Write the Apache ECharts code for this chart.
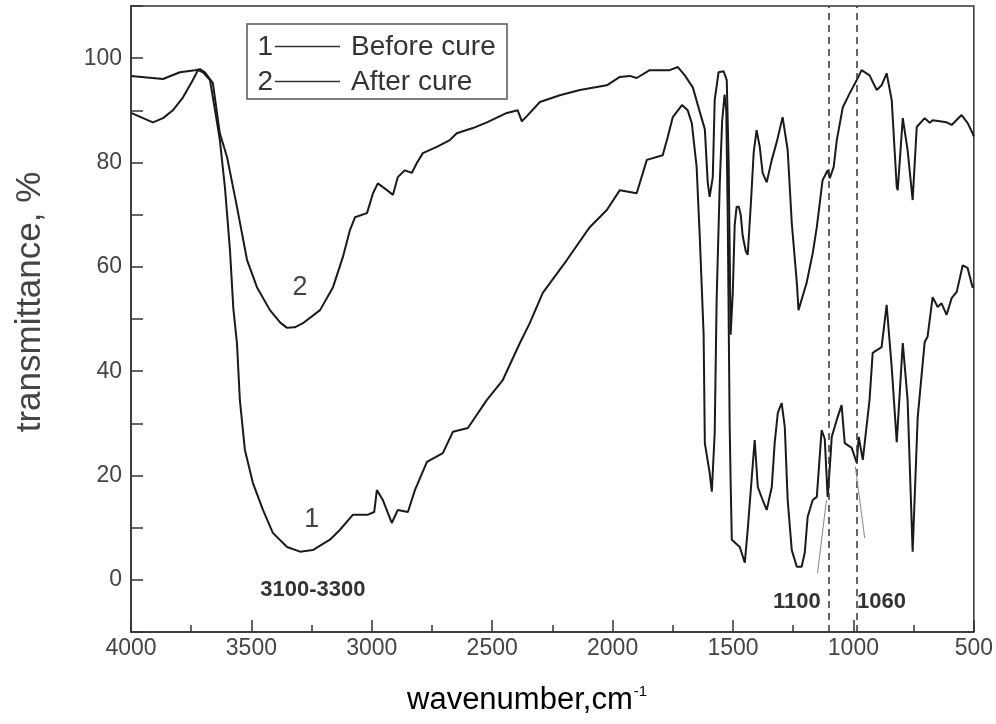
<!DOCTYPE html>
<html>
<head>
<meta charset="utf-8">
<style>
html,body{margin:0;padding:0;background:#fff;}
#chart{width:996px;height:724px;}
</style>
<script src="https://cdn.jsdelivr.net/npm/echarts@6.0.0/dist/echarts.min.js"></script>
</head>
<body>
<div id="chart"></div>
<script>
// ---- data (wavenumber, cm-1 / transmittance, %) ----
const xTicks = [4000, 3500, 3000, 2500, 2000, 1500, 1000, 500];
const yTicks = [0, 20, 40, 60, 80, 100];
const seriesNames = ['Before cure', 'After cure'];

const beforeWn = [4000,3909,3867,3826,3784,3743,3722,3701,3672,3651,3631,3610,3589,3575,3560,3548,3527,3494,3452,3411,3352,3298,3245,3174,3132,3078,3016,2990,2979,2954,2917,2892,2850,2821,2771,2705,2663,2601,2522,2456,2385,2344,2290,2190,2095,2024,1970,1900,1858,1792,1771,1750,1712,1688,1671,1651,1638,1630,1622,1617,1597,1588,1576,1568,1555,1545,1535,1528,1522,1514,1510,1505,1472,1451,1439,1422,1410,1397,1377,1360,1339,1327,1314,1298,1285,1273,1256,1235,1215,1202,1190,1169,1152,1132,1119,1107,1098,1090,1069,1049,1036,1007,986,978,961,933,920,883,862,841,820,795,775,754,733,704,692,671,650,634,613,592,571,546,526,505,500];
const beforeT  = [89.5,87.7,88.5,90.0,92.5,95.8,97.7,97.3,95.8,90.0,84.3,75.3,63.2,52.0,45.4,34.5,24.9,18.6,13.4,9.0,6.3,5.4,5.7,7.7,9.6,12.5,12.5,13.0,17.2,15.3,10.9,13.4,13.0,17.2,22.6,24.3,28.4,29.1,34.5,38.3,45.4,49.2,55.0,61.3,67.6,70.9,74.7,74.1,80.5,81.4,84.9,88.7,91.0,90.0,87.5,79.1,65.7,65.5,47.0,26.2,20.5,16.9,28.2,53.6,76.0,88.0,93.0,90.0,70.0,30.0,19.2,7.7,6.3,3.3,9.6,19.7,26.8,17.8,15.3,13.4,17.8,26.2,32.0,33.9,29.3,15.3,5.7,2.5,2.5,5.2,12.1,15.3,15.9,28.7,27.0,15.9,21.6,27.4,30.7,33.5,26.2,25.3,22.4,27.4,23.0,34.5,43.5,44.6,52.7,40.8,26.4,45.4,34.5,5.4,31.2,45.6,46.6,54.2,52.3,53.0,50.8,54.0,55.2,60.3,59.8,56.1,56.0];

const afterWn = [4000,3867,3797,3734,3714,3693,3660,3631,3601,3560,3518,3477,3423,3380,3352,3320,3286,3215,3161,3120,3091,3070,3020,2995,2975,2937,2912,2892,2863,2834,2813,2788,2730,2676,2647,2580,2522,2439,2394,2377,2356,2302,2219,2136,2024,1970,1929,1900,1846,1763,1729,1700,1667,1638,1617,1605,1597,1584,1576,1560,1539,1526,1518,1510,1501,1493,1485,1476,1468,1460,1447,1439,1426,1414,1402,1389,1377,1360,1339,1318,1294,1273,1256,1235,1228,1194,1169,1152,1128,1107,1098,1082,1069,1044,1015,986,966,933,903,883,862,841,820,816,795,775,754,737,704,683,671,613,592,551,526,505,500];
const afterT  = [96.6,96.0,97.3,97.7,97.9,97.3,95.2,85.6,81.0,71.5,61.3,56.1,51.7,49.3,48.3,48.4,49.2,51.7,56.1,61.9,67.0,69.5,70.3,74.1,76.0,74.7,73.8,77.2,78.5,78.0,79.9,81.8,83.0,84.3,85.6,86.6,87.7,89.5,90.0,87.9,88.9,91.6,92.9,93.9,94.8,96.4,96.6,96.2,97.7,97.7,98.3,96.7,94.4,89.7,86.4,76.2,73.4,77.2,92.0,97.3,97.5,95.8,80.0,47.0,55.0,68.0,71.5,71.5,70.0,66.0,63.0,62.3,72.0,82.0,86.2,83.0,78.0,76.2,80.5,84.0,88.7,82.4,68.4,57.0,51.7,57.0,62.6,67.6,76.6,78.5,77.0,79.1,84.3,90.6,93.3,95.8,97.7,96.7,93.9,94.8,97.1,92.0,75.3,74.7,88.5,82.4,72.8,86.8,88.5,87.6,88.1,87.7,87.2,89.1,87.6,85.6,85.0];

// marked bands (dashed guides) and annotations
const guideLines = [1102, 988];
const pointerLines = [[[1149, 1.3], [1112, 15.3]], [[953, 8.0], [992, 21.7]]];
const annotations = [
  {text: '3100-3300', at: [3245, -1.9], bold: true},
  {text: '1100', at: [1235, -4.2], bold: true},
  {text: '1060', at: [883, -4.2], bold: true},
  {text: '1', at: [3249, 11.5], bold: false},
  {text: '2', at: [3298, 56.1], bold: false}
];

const SANS = "'Liberation Sans', Arial, Helvetica, sans-serif";

const zip = (a, b) => a.map((x, i) => [x, b[i]]);

const chart = echarts.init(document.getElementById('chart'), null, {renderer: 'canvas'});

const option = {
  animation: false,
  backgroundColor: '#fff',
  grid: {left: 131, right: 22, top: 6, bottom: 92, show: true, borderColor: '#333', borderWidth: 1.5, containLabel: false},
  xAxis: {
    type: 'value', inverse: true, min: 500, max: 4000, interval: 500,
    axisLine: {show: true, onZero: false, lineStyle: {color: '#333', width: 1.5}},
    axisTick: {show: true, inside: true, length: 12, lineStyle: {color: '#333', width: 1.5}},
    minorTick: {show: true, splitNumber: 2, length: 7, lineStyle: {color: '#333', width: 1.5}},
    splitLine: {show: false}, minorSplitLine: {show: false},
    axisLabel: {fontSize: 23, color: '#444', margin: 5, fontFamily: SANS,
      formatter: v => xTicks.indexOf(v) >= 0 ? String(v) : ''}
  },
  yAxis: {
    type: 'value', min: -10, max: 110, interval: 10,
    axisLine: {show: true, onZero: false, lineStyle: {color: '#333', width: 1.5}},
    axisTick: {show: true, inside: true, length: 12, lineStyle: {color: '#333', width: 1.5}},
    splitLine: {show: false},
    axisLabel: {fontSize: 23, color: '#444', margin: 9, fontFamily: SANS,
      formatter: v => yTicks.indexOf(v) >= 0 ? String(v) : ''}
  },
  series: [
    {
      name: seriesNames[0], type: 'line', data: zip(beforeWn, beforeT),
      showSymbol: false, symbol: 'none', lineStyle: {color: '#1a1a1a', width: 2}, z: 3,
      markLine: {
        silent: true, symbol: 'none', label: {show: false},
        lineStyle: {color: '#333', width: 1.5, type: [7, 5]},
        data: guideLines.map(x => ({xAxis: x}))
      },
      markPoint: {
        silent: true, symbol: 'rect', symbolSize: 1, itemStyle: {color: 'rgba(0,0,0,0)'},
        data: annotations.map(a => ({
          coord: a.at, value: a.text,
          label: {show: true, position: 'inside', formatter: a.text, color: a.bold ? '#333' : '#444',
            fontWeight: a.bold ? 'bold' : 'normal', fontSize: a.bold ? 22 : 27, fontFamily: SANS}
        }))
      }
    },
    {
      name: seriesNames[1], type: 'line', data: zip(afterWn, afterT),
      showSymbol: false, symbol: 'none', lineStyle: {color: '#1a1a1a', width: 2}, z: 3,
      markLine: {
        silent: true, symbol: 'none', label: {show: false},
        lineStyle: {color: '#888', width: 1, type: 'solid'},
        data: pointerLines.map(p => [{coord: p[0]}, {coord: p[1]}])
      }
    }
  ],
  graphic: [
    {type: 'rect', shape: {x: 247, y: 24, width: 260, height: 75}, style: {fill: '#fff', stroke: '#555', lineWidth: 1.5}, z: 10},
    {type: 'line', shape: {x1: 275, y1: 46.5, x2: 340, y2: 46.5}, style: {stroke: '#333', lineWidth: 1.5}, z: 11},
    {type: 'line', shape: {x1: 275, y1: 81.5, x2: 340, y2: 81.5}, style: {stroke: '#333', lineWidth: 1.5}, z: 11},
    {type: 'text', x: 273, y: 47, z: 11, style: {text: '1', font: '28px ' + SANS, fill: '#333', textAlign: 'right', textVerticalAlign: 'middle'}},
    {type: 'text', x: 273, y: 82, z: 11, style: {text: '2', font: '28px ' + SANS, fill: '#333', textAlign: 'right', textVerticalAlign: 'middle'}},
    {type: 'text', x: 351, y: 47, z: 11, style: {text: seriesNames[0], font: '28px ' + SANS, fill: '#333', textAlign: 'left', textVerticalAlign: 'middle'}},
    {type: 'text', x: 351, y: 82, z: 11, style: {text: seriesNames[1], font: '28px ' + SANS, fill: '#333', textAlign: 'left', textVerticalAlign: 'middle'}},
    {type: 'text', x: 30, y: 302, rotation: Math.PI / 2, z: 11,
      style: {text: 'transmittance, %', font: '35px ' + SANS, fill: '#444', textAlign: 'center', textVerticalAlign: 'middle'}},
    {type: 'text', x: 407, y: 700, z: 11,
      style: {text: '{a|wavenumber,cm}{b|-1}', textAlign: 'left', textVerticalAlign: 'middle',
        rich: {a: {fontSize: 31, fontFamily: SANS, color: '#444'},
               b: {fontSize: 15, fontFamily: SANS, color: '#444', verticalAlign: 'top', padding: [0, 0, 14, 1]}}}}
  ]
};
chart.setOption(option);
</script>
</body>
</html>
